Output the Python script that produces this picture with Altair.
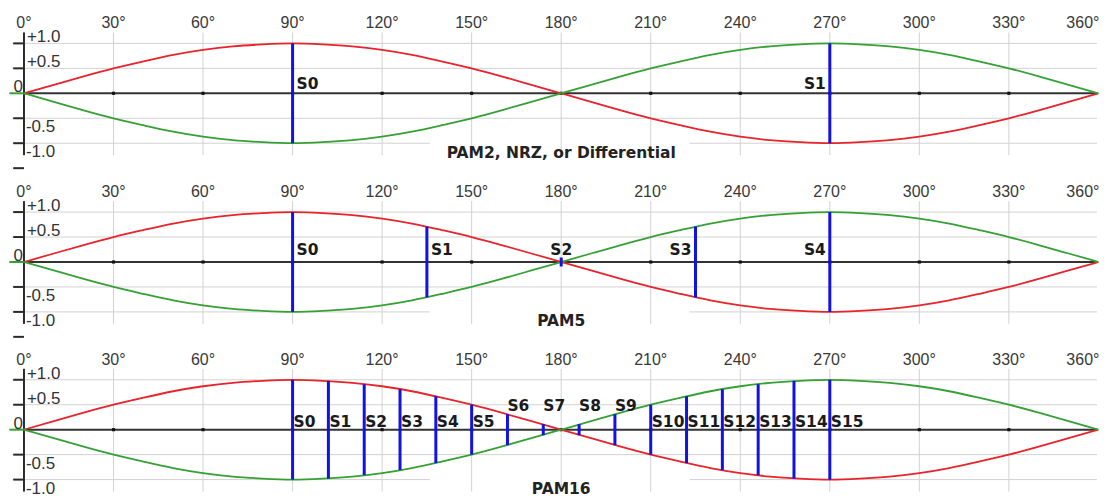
import altair as alt
import pandas as pd

# ---------------- data ----------------
curve_angles = [0, 10, 20, 30, 40, 50, 60, 70, 80, 90, 100, 110, 120, 130, 140, 150, 160, 170, 180,
                190, 200, 210, 220, 230, 240, 250, 260, 270, 280, 290, 300, 310, 320, 330, 340, 350, 360]
red_values = [0.0, 0.17, 0.34, 0.5, 0.64, 0.77, 0.87, 0.94, 0.98, 1.0, 0.98, 0.94, 0.87, 0.77, 0.64, 0.5, 0.34, 0.17, 0.0,
              -0.17, -0.34, -0.5, -0.64, -0.77, -0.87, -0.94, -0.98, -1.0, -0.98, -0.94, -0.87, -0.77, -0.64, -0.5, -0.34, -0.17, 0.0]
green_values = [0.0, -0.17, -0.34, -0.5, -0.64, -0.77, -0.87, -0.94, -0.98, -1.0, -0.98, -0.94, -0.87, -0.77, -0.64, -0.5, -0.34, -0.17, 0.0,
                0.17, 0.34, 0.5, 0.64, 0.77, 0.87, 0.94, 0.98, 1.0, 0.98, 0.94, 0.87, 0.77, 0.64, 0.5, 0.34, 0.17, 0.0]

deg_ticks = [0, 30, 60, 90, 120, 150, 180, 210, 240, 270, 300, 330, 360]
deg_labels = ["0°", "30°", "60°", "90°", "120°", "150°", "180°", "210°", "240°", "270°", "300°", "330°", "360°"]
axis_tick_levels = [1.0, 0.5, -0.5, -1.0, -1.5]
y_label_levels = [1.0, 0.5, 0.0, -0.5, -1.0]
y_label_texts = ["+1.0", "+0.5", "0", "-0.5", "-1.0"]

pam2_title = "PAM2, NRZ, or Differential"
pam2_angles = [90, 270]
pam2_half = [1.0, 1.0]
pam2_names = ["S0", "S1"]
pam2_place = ["right", "left"]

pam5_title = "PAM5"
pam5_angles = [90, 135, 180, 225, 270]
pam5_half = [1.0, 0.71, 0.09, 0.71, 1.0]
pam5_names = ["S0", "S1", "S2", "S3", "S4"]
pam5_place = ["right", "right", "center", "left", "left"]

pam16_title = "PAM16"
pam16_angles = [90, 102, 114, 126, 138, 150, 162, 174, 186, 198, 210, 222, 234, 246, 258, 270]
pam16_half = [1.0, 0.98, 0.91, 0.81, 0.67, 0.5, 0.31, 0.11, 0.11, 0.31, 0.5, 0.67, 0.81, 0.91, 0.98, 1.0]
pam16_names = ["S0", "S1", "S2", "S3", "S4", "S5", "S6", "S7", "S8", "S9",
               "S10", "S11", "S12", "S13", "S14", "S15"]
pam16_place = ["tight"] * 6 + ["high"] * 4 + ["tight"] * 6

# ---------------- styling ----------------
W = 1094
X0_PX = 16.0          # where 0 degrees sits inside the plot
PX_PER_DEG = 2.99
PX_PER_UNIT = 50.0
TOP = 1.7
RED = "#e8232b"
GREEN = "#35a135"
BLUE = "#1212e6"
GRID = "#d2d2d2"
DARK = "#2a2a2a"

X_MIN = -X0_PX / PX_PER_DEG
X_MAX = X_MIN + W / PX_PER_DEG

curves = pd.DataFrame({"angle": curve_angles, "red": red_values, "green": green_values})
ticks_df = pd.DataFrame({"deg": deg_ticks, "label": deg_labels})
vgrid_df = pd.DataFrame({"deg": deg_ticks[1:-1]})
ylab_df = pd.DataFrame({"level": y_label_levels, "text": y_label_texts})
axis_ticks_df = pd.DataFrame({"level": axis_tick_levels})
one_df = pd.DataFrame({"k": [0]})


def panel(title, angles, halves, names, places, label_dy, height):
    xs = alt.Scale(domain=[X_MIN, X_MAX], nice=False, zero=False)
    ys = alt.Scale(domain=[TOP - height / PX_PER_UNIT, TOP], nice=False, zero=False)

    def X(f):
        return alt.X(f, type="quantitative", scale=xs, axis=None)

    def Y(f):
        return alt.Y(f, type="quantitative", scale=ys, axis=None)

    # horizontal gridlines (the -1.0 one is interrupted behind the title)
    hg = pd.DataFrame({
        "level": [1.0, 0.5, -0.5, -1.0, -1.0],
        "x1": [-3.9, -3.9, -3.9, -3.9, 223.0],
        "x2": [359.5, 359.5, 359.5, 136.0, 359.5],
    })
    hgrid = alt.Chart(hg).mark_rule(color=GRID, strokeWidth=1).encode(
        x=X("x1"), x2="x2:Q", y=Y("level"))
    vgrid = alt.Chart(vgrid_df).transform_calculate(ya="1.22", yb="-1.24").mark_rule(
        color=GRID, strokeWidth=1).encode(x=X("deg"), y=Y("ya"), y2="yb:Q")

    left_axis = alt.Chart(one_df).transform_calculate(xa="0", ya="1.22", yb="-1.24").mark_rule(
        color=DARK, strokeWidth=2).encode(x=X("xa"), y=Y("ya"), y2="yb:Q")
    left_ticks = alt.Chart(axis_ticks_df).transform_calculate(xa="-3.6", xb="0").mark_rule(
        color=DARK, strokeWidth=2).encode(x=X("xa"), x2="xb:Q", y=Y("level"))

    zero_line = alt.Chart(one_df).transform_calculate(xa="0", xb="359.5", ya="0").mark_rule(
        color="#333333", strokeWidth=2).encode(x=X("xa"), x2="xb:Q", y=Y("ya"))
    green_lead = alt.Chart(one_df).transform_calculate(xa="-4.9", xb="0", ya="0").mark_rule(
        color=GREEN, strokeWidth=2).encode(x=X("xa"), x2="xb:Q", y=Y("ya"))
    dots = alt.Chart(vgrid_df).transform_calculate(ya="0").mark_square(
        size=10, color="#111111", opacity=1).encode(x=X("deg"), y=Y("ya"))

    red = alt.Chart(curves).mark_line(color=RED, strokeWidth=1.8, interpolate="natural").encode(
        x=X("angle"), y=Y("red"))
    green = alt.Chart(curves).mark_line(color=GREEN, strokeWidth=1.8, interpolate="natural").encode(
        x=X("angle"), y=Y("green"))

    sym = pd.DataFrame({"angle": angles, "half": halves, "name": names, "place": places})
    blue = alt.Chart(sym).transform_calculate(neg="-datum.half").mark_rule(
        color=BLUE, strokeWidth=3).encode(x=X("angle"), y=Y("half"), y2="neg:Q")

    lab_font = dict(font="DejaVu Sans", fontWeight="bold", fontSize=15.5, color="#1a1a1a", baseline="middle")
    lab_specs = {
        "right": dict(align="left", dx=4, dy=-label_dy),
        "tight": dict(align="left", dx=1, dy=-label_dy),
        "left": dict(align="right", dx=-4, dy=-label_dy),
        "center": dict(align="center", dx=0, dy=-label_dy),
        "high": dict(align="left", dx=0, dy=-24),
    }
    labels = []
    for key, spec in lab_specs.items():
        if key in places:
            labels.append(
                alt.Chart(sym).transform_filter(alt.datum.place == key)
                .transform_calculate(ya="0")
                .mark_text(**lab_font, **spec)
                .encode(x=X("angle"), y=Y("ya"), text="name:N"))

    deg_font = dict(font="Liberation Sans", fontSize=16, color="#383838", baseline="middle")
    deg_mid = alt.Chart(ticks_df).transform_filter(alt.datum.deg < 360).transform_calculate(ya="1").mark_text(
        align="center", dy=-20, **deg_font).encode(x=X("deg"), y=Y("ya"), text="label:N")
    deg_end = alt.Chart(ticks_df).transform_filter(alt.datum.deg == 360).transform_calculate(ya="1").mark_text(
        align="right", dx=1, dy=-20, **deg_font).encode(x=X("deg"), y=Y("ya"), text="label:N")

    yfont = dict(font="Liberation Sans", fontSize=17, color="#333333", baseline="middle")
    ypos = alt.Chart(ylab_df).transform_filter(alt.datum.level > 0).transform_calculate(xa="0").mark_text(
        align="left", dx=3, dy=-6, **yfont).encode(x=X("xa"), y=Y("level"), text="text:N")
    yzero = alt.Chart(ylab_df).transform_filter(alt.datum.level == 0).transform_calculate(xa="0").mark_text(
        align="right", dx=-1, dy=-6, **yfont).encode(x=X("xa"), y=Y("level"), text="text:N")
    yneg = alt.Chart(ylab_df).transform_filter(alt.datum.level < 0).transform_calculate(xa="0").mark_text(
        align="left", dx=2, dy=9, **yfont).encode(x=X("xa"), y=Y("level"), text="text:N")

    ttl = alt.Chart(pd.DataFrame({"t": [title]})).transform_calculate(xa="180", ya="-1").mark_text(
        font="DejaVu Sans", fontWeight="bold", fontSize=15.5, color="#222222",
        baseline="middle", align="center", dy=9.5).encode(
        x=X("xa"), y=Y("ya"), text="t:N")

    return alt.layer(
        hgrid, vgrid, left_ticks, left_axis, zero_line, green_lead, dots,
        red, green, blue, *labels, deg_mid, deg_end, ypos, yzero, yneg, ttl
    ).properties(width=W, height=height)


p1 = panel(pam2_title, pam2_angles, pam2_half, pam2_names, pam2_place, 9.5, 169)
p2 = panel(pam5_title, pam5_angles, pam5_half, pam5_names, pam5_place, 12.5, 168)
p3 = panel(pam16_title, pam16_angles, pam16_half, pam16_names, pam16_place, 8, 156)

chart = alt.vconcat(p1, p2, p3, spacing=0).properties(
    padding=0, background="white"
).configure_view(stroke=None)

chart.save("out.html", embed_options={"renderer": "svg", "actions": False})
